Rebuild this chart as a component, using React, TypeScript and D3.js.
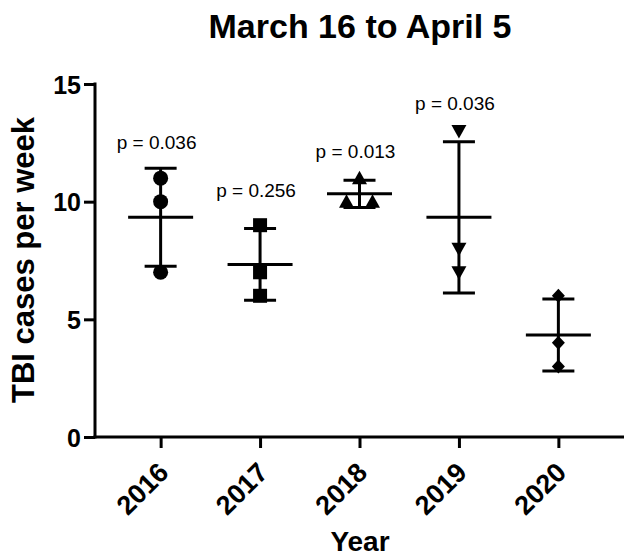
import * as d3 from "d3";
import { useEffect, useRef } from "react";

const years = ["2016", "2017", "2018", "2019", "2020"];
const cases = [
  [11, 10, 7],
  [9, 7, 6],
  [11, 10, 10],
  [13, 8, 7],
  [6, 4, 3],
];
const symbols = ["circle", "square", "triangle", "triangleDown", "diamond"];
const pLabels = ["p = 0.036", "p = 0.256", "p = 0.013", "p = 0.036", ""];
// baseline height of each p label, in axis units
const pLabelAt = [12.25, 10.21, 11.86, 13.9, 0];
const yTicks = [0, 5, 10, 15];

const FONT = "'Liberation Sans', Arial, Helvetica, sans-serif";

export default function App() {
  const svgRef = useRef<SVGSVGElement | null>(null);
  const width = 624;
  const height = 558;

  useEffect(() => {
    if (!svgRef.current) return;
    const svg = d3.select(svgRef.current);
    svg.selectAll("*").remove();

    const left = 95;
    const x = d3.scalePoint<string>().domain(years).range([left, width]).padding(0.66);
    const y = d3.scaleLinear().domain([0, 15]).range([437, 84]);

    // title
    svg
      .append("text")
      .attr("x", 360)
      .attr("y", 38)
      .attr("text-anchor", "middle")
      .attr("font-family", FONT)
      .attr("font-weight", "bold")
      .attr("font-size", 34)
      .text("March 16 to April 5");

    // y axis
    const yAxis = svg
      .append("g")
      .attr("transform", `translate(${left},0)`)
      .call(d3.axisLeft(y).tickValues(yTicks).tickSize(11).tickPadding(3).tickSizeOuter(0));
    yAxis.select(".domain").attr("stroke-width", 3).attr("d", `M0,${y(15) - 1.5}V${y(0) + 1.5}`);
    yAxis.selectAll(".tick line").attr("stroke-width", 3);
    yAxis
      .selectAll(".tick text")
      .attr("font-family", FONT)
      .attr("font-weight", "bold")
      .attr("font-size", 25)
      .attr("dy", "0.36em");

    // x axis
    const xAxis = svg
      .append("g")
      .attr("transform", `translate(0,${y(0)})`)
      .call(d3.axisBottom(x).tickSize(11).tickSizeOuter(0));
    xAxis.select(".domain").attr("stroke-width", 3).attr("d", `M${left - 1.5},0H${width}`);
    xAxis.selectAll(".tick line").attr("stroke-width", 3);
    xAxis
      .selectAll(".tick text")
      .attr("font-family", FONT)
      .attr("font-weight", "bold")
      .attr("font-size", 27)
      .attr("text-anchor", "end")
      .attr("dy", 0)
      .attr("y", 0)
      .attr("transform", "translate(9,37) rotate(-45)");

    // axis titles
    svg
      .append("text")
      .attr("transform", `translate(34,260) rotate(-90)`)
      .attr("text-anchor", "middle")
      .attr("font-family", FONT)
      .attr("font-weight", "bold")
      .attr("font-size", 31)
      .text("TBI cases per week");

    svg
      .append("text")
      .attr("x", 360)
      .attr("y", 551)
      .attr("text-anchor", "middle")
      .attr("font-family", FONT)
      .attr("font-weight", "bold")
      .attr("font-size", 28)
      .text("Year");

    const symbolPath = (kind: string) => {
      switch (kind) {
        case "circle":
          return "M7.5,0A7.5,7.5 0 1,1 -7.5,0A7.5,7.5 0 1,1 7.5,0Z";
        case "square":
          return "M-7,-7H7V7H-7Z";
        case "triangle":
          return "M0,-7.5L7.5,6L-7.5,6Z";
        case "triangleDown":
          return "M0,7.5L7.5,-6L-7.5,-6Z";
        default:
          return "M0,-7L6.5,0L0,7L-6.5,0Z";
      }
    };

    years.forEach((yr, i) => {
      const vals = cases[i];
      const cx = x(yr)!;
      const m = d3.mean(vals)!;
      const sd = d3.deviation(vals)!;
      const g = svg.append("g");

      // points, spreading out duplicate values side by side
      vals.forEach((v, j) => {
        const same = vals.filter((w) => w === v).length;
        const k = vals.slice(0, j).filter((w) => w === v).length;
        const dx = same > 1 ? (k - (same - 1) / 2) * 26 : 0;
        g.append("path")
          .attr("d", symbolPath(symbols[i]))
          .attr("transform", `translate(${cx + dx},${y(v)})`)
          .attr("fill", "#000");
      });

      const line = (x1: number, y1: number, x2: number, y2: number) =>
        g
          .append("line")
          .attr("x1", x1)
          .attr("y1", y1)
          .attr("x2", x2)
          .attr("y2", y2)
          .attr("stroke", "#000")
          .attr("stroke-width", 3);

      line(cx, y(m + sd), cx, y(m - sd));
      line(cx - 16, y(m + sd), cx + 16, y(m + sd));
      line(cx - 16, y(m - sd), cx + 16, y(m - sd));
      line(cx - 32.5, y(m), cx + 32.5, y(m));

      if (pLabels[i]) {
        svg
          .append("text")
          .attr("x", cx - 4)
          .attr("y", y(pLabelAt[i]))
          .attr("text-anchor", "middle")
          .attr("font-family", FONT)
          .attr("font-size", 19)
          .text(pLabels[i]);
      }
    });
  }, [svgRef]);

  return (
    <svg
      ref={svgRef}
      width={width}
      height={height}
      style={{ position: "absolute", left: 0, top: 0, background: "#fff" }}
    />
  );
}
